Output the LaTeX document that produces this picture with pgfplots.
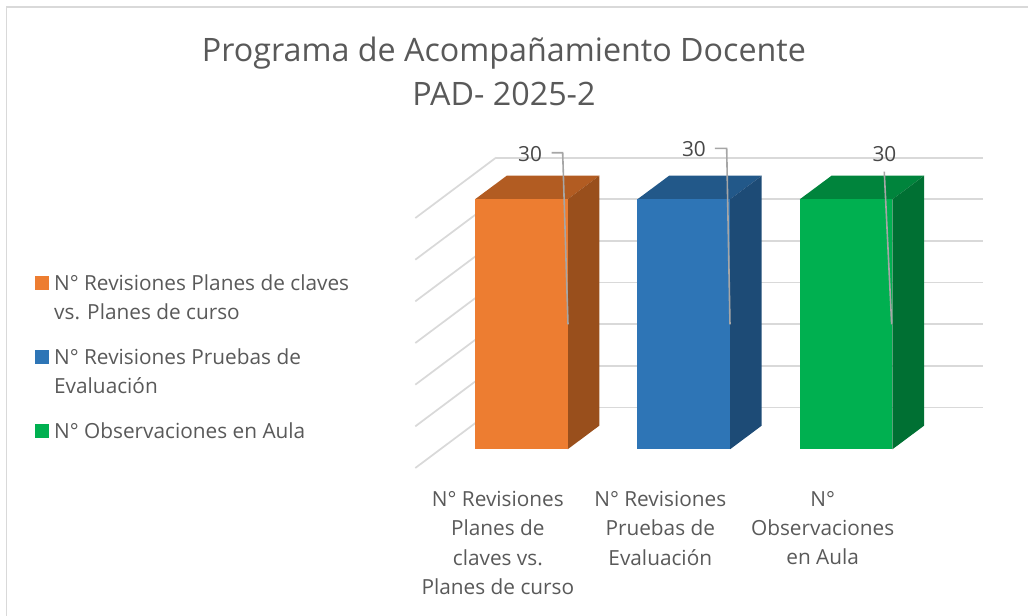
\documentclass[border=0pt]{standalone}
\usepackage{fontspec}
\setmainfont{Open Sans}
\usepackage{pgfplots}
\pgfplotsset{compat=1.18}
\definecolor{cOrange}{HTML}{ED7D31}
\definecolor{cOrangeTop}{HTML}{B25C22}
\definecolor{cOrangeSide}{HTML}{994F1C}
\definecolor{cBlue}{HTML}{2E75B6}
\definecolor{cBlueTop}{HTML}{225889}
\definecolor{cBlueSide}{HTML}{1D4B76}
\definecolor{cGreen}{HTML}{00B050}
\definecolor{cGreenTop}{HTML}{00843C}
\definecolor{cGreenSide}{HTML}{007033}
\definecolor{cText}{HTML}{595959}
\definecolor{cGrid}{HTML}{D9D9D9}
\definecolor{cLead}{HTML}{A6A6A6}
\pgfplotsset{
  wall/.style={draw=cGrid, line width=1.3pt, forget plot},
  face/.style={fill=#1, draw=none, forget plot},
  lead/.style={draw=cLead, line width=1.2pt, forget plot},
}
\newcommand{\lblfont}{\fontsize{15.6}{21.9}\selectfont}
\begin{document}
\begin{tikzpicture}
\useasboundingbox (0,0) rectangle (771pt,462pt);
\draw[cGrid, line width=0.9pt] (4.9pt,0) -- (4.9pt,456.75pt) -- (771pt,456.75pt);
\begin{axis}[
  at={(311.475pt,111pt)}, anchor=south west,
  scale only axis, width=425.55pt, height=232.76pt,
  xmin=-0.653, xmax=2.841, ymin=-2.25, ymax=35,
  clip=false,
  axis line style={draw=none}, major tick style={draw=none},
  xtick={0,1,2}, ytick=\empty,
  xticklabels={
    {N° Revisiones\\Planes de\\claves vs.\\Planes de curso},
    {N° Revisiones\\Pruebas de\\Evaluación},
    {N°\\Observaciones\\en Aula}},
  x tick label style={align=center, anchor=north, font=\lblfont, text=cText,
    xshift=-17.6pt, yshift=-14pt},
  title={Programa de Acompañamiento Docente\\PAD- 2025-2},
  title style={at={(0.1563,1.252)}, anchor=center, align=center,
    font=\fontsize{24.2}{33.6}\selectfont, text=cText},
  legend image code/.code={\fill[#1, draw=none] (0pt,0.6pt) rectangle (10.5pt,11.1pt); \path (12pt,0pt);},
  legend cell align=left,
  legend style={at={(-0.6703,0.6316)}, anchor=north west, draw=none, fill=none,
    inner sep=0pt, font=\lblfont, text=cText, row sep=38pt,
    cells={anchor=base west}},
]
% back wall
\addplot[wall] coordinates {(-0.156,5) (2.841,5)};
\addplot[wall] coordinates {(-0.156,10) (2.841,10)};
\addplot[wall] coordinates {(-0.156,15) (2.841,15)};
\addplot[wall] coordinates {(-0.156,20) (2.841,20)};
\addplot[wall] coordinates {(-0.156,25) (2.841,25)};
\addplot[wall] coordinates {(-0.156,30) (2.841,30)};
\addplot[wall] coordinates {(-0.156,35) (2.841,35)};
% side wall
\addplot[wall] coordinates {(-0.653,-2.25) (-0.156,5)};
\addplot[wall] coordinates {(-0.653,2.75) (-0.156,10)};
\addplot[wall] coordinates {(-0.653,7.75) (-0.156,15)};
\addplot[wall] coordinates {(-0.653,12.75) (-0.156,20)};
\addplot[wall] coordinates {(-0.653,17.75) (-0.156,25)};
\addplot[wall] coordinates {(-0.653,22.75) (-0.156,30)};
\addplot[wall] coordinates {(-0.653,27.75) (-0.156,35)};
% bars: top, side, front
\addplot[face=cOrangeTop] coordinates {(-0.2854,30) (0.2854,30) (0.4800,32.83) (-0.0900,32.83)} -- cycle;
\addplot[face=cOrangeSide] coordinates {(0.2854,0) (0.4800,2.83) (0.4800,32.83) (0.2854,30)} -- cycle;
\addplot[ybar, bar shift=0pt, bar width=69.5pt, face=cOrange] coordinates {(0,30)};
\addplot[face=cBlueTop] coordinates {(0.7146,30) (1.2854,30) (1.4800,32.83) (0.9100,32.83)} -- cycle;
\addplot[face=cBlueSide] coordinates {(1.2854,0) (1.4800,2.83) (1.4800,32.83) (1.2854,30)} -- cycle;
\addplot[ybar, bar shift=0pt, bar width=69.5pt, face=cBlue] coordinates {(1,30)};
\addplot[face=cGreenTop] coordinates {(1.7146,30) (2.2854,30) (2.4800,32.83) (1.9100,32.83)} -- cycle;
\addplot[face=cGreenSide] coordinates {(2.2854,0) (2.4800,2.83) (2.4800,32.83) (2.2854,30)} -- cycle;
\addplot[ybar, bar shift=0pt, bar width=69.5pt, face=cGreen] coordinates {(2,30)};
% leader lines
\addplot[lead] coordinates {(0.187,35.59) (0.2546,35.59) (0.2873,15)};
\addplot[lead] coordinates {(1.1924,36.12) (1.2645,36.12) (1.2848,15)};
\addplot[lead] coordinates {(2.2349,33.31) (2.2805,15)};
\node[font=\lblfont, text=cText!80!black] at (axis cs:0.0533,35.44) {30};
\node[font=\lblfont, text=cText!80!black] at (axis cs:1.0631,36.04) {30};
\node[font=\lblfont, text=cText!80!black] at (axis cs:2.2361,35.44) {30};
% legend
\addlegendimage{fill=cOrange}
\addlegendentry{\parbox[t]{240pt}{N° Revisiones Planes de claves\\vs. Planes de curso}}
\addlegendimage{fill=cBlue}
\addlegendentry{\parbox[t]{240pt}{N° Revisiones Pruebas de\\Evaluación}}
\addlegendimage{fill=cGreen}
\addlegendentry{N° Observaciones en Aula}
\end{axis}
\end{tikzpicture}
\end{document}
